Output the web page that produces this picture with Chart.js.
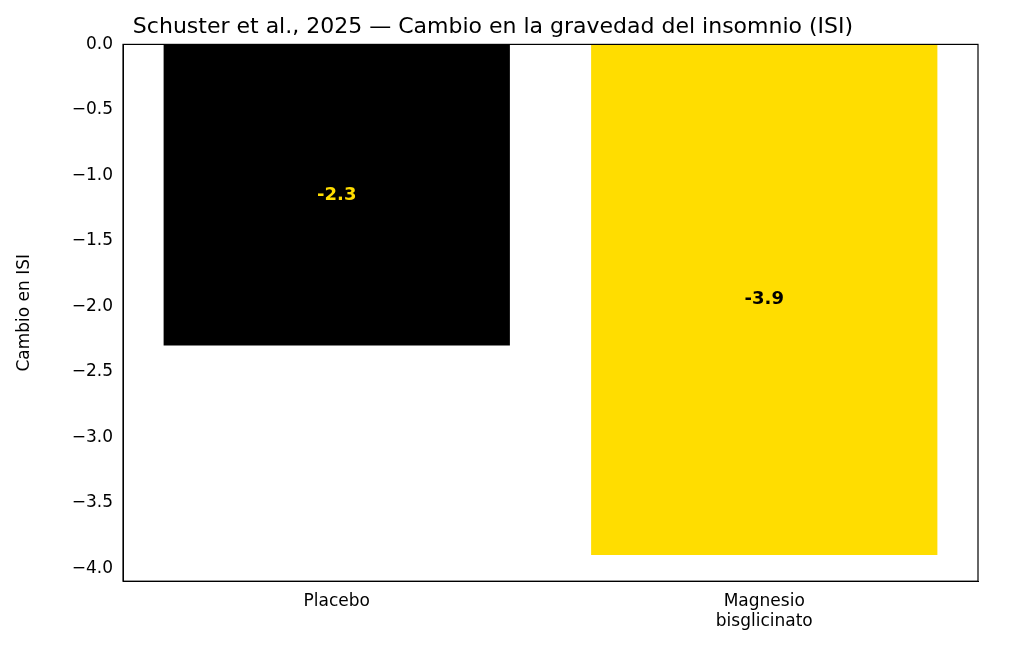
<!DOCTYPE html>
<html><head><meta charset="utf-8">
<script src="https://cdn.jsdelivr.net/npm/chart.js@4"></script>
<style>html,body{margin:0;padding:0;background:#fff}#w{width:1024px;height:656px}</style>
</head><body><div id="w"><canvas id="c"></canvas></div>
<script>
const categories = [["Placebo"], ["Magnesio", "bisglicinato"]];
const values = [-2.3, -3.9];
const valueLabels = ["-2.3", "-3.9"];
const barColors = ["#000000", "#FFDD00"];
const labelColors = ["#FFDD00", "#000000"];
const yTicks = [0, -0.5, -1.0, -1.5, -2.0, -2.5, -3.0, -3.5, -4.0];
const titleText = "Schuster et al., 2025 — Cambio en la gravedad del insomnio (ISI)";
const yTitle = "Cambio en ISI";

const F = "'DejaVu Sans', sans-serif";
Chart.defaults.font.family = F;
Chart.defaults.color = "#000";

const extras = {
  id: "extras",
  afterDatasetsDraw(chart) {
    const ctx = chart.ctx, a = chart.chartArea;
    ctx.save();
    ctx.strokeStyle = "#000"; ctx.lineWidth = 1.2;
    ctx.strokeRect(a.left, a.top, a.right - a.left, a.bottom - a.top);
    const meta = chart.getDatasetMeta(0);
    ctx.font = "bold 18px " + F;
    ctx.textAlign = "center"; ctx.textBaseline = "middle";
    meta.data.forEach((b, i) => {
      const y = chart.scales.y.getPixelForValue(values[i] / 2);
      ctx.fillStyle = labelColors[i];
      ctx.fillText(valueLabels[i], b.x, y);
    });
    ctx.restore();
  }
};

new Chart(document.getElementById("c"), {
  type: "bar",
  data: { labels: categories, datasets: [{ data: values, backgroundColor: barColors, barPercentage: 0.81, categoryPercentage: 1.0 }] },
  options: {
    responsive: true, maintainAspectRatio: false, animation: false,
    layout: { padding: { left: 8, right: 46, top: 0, bottom: 20 } },
    plugins: {
      legend: { display: false }, tooltip: { enabled: false },
      title: { display: true, text: titleText, font: { size: 22, weight: "normal", family: F }, color: "#000", padding: { top: 14, bottom: 4 } }
    },
    scales: {
      x: {
        offset: true,
        grid: { display: false, drawTicks: true, tickLength: 6 },
        border: { color: "#000" },
        ticks: { font: { size: 17 }, color: "#000", padding: 4, maxRotation: 0 }
      },
      y: {
        min: -4.1, max: 0,
        afterBuildTicks(s) { s.ticks = yTicks.map(v => ({ value: v })); },
        afterFit(s) { s.width = 115; },
        grid: { display: false, drawTicks: true, tickLength: 6 },
        border: { color: "#000" },
        title: { display: true, text: yTitle, font: { size: 17 }, color: "#000", padding: 6 },
        ticks: { font: { size: 17 }, color: "#000", padding: 4,
          callback: v => (v < 0 ? "\u2212" : "") + Math.abs(v).toFixed(1) }
      }
    }
  },
  plugins: [extras]
});
</script></body></html>
